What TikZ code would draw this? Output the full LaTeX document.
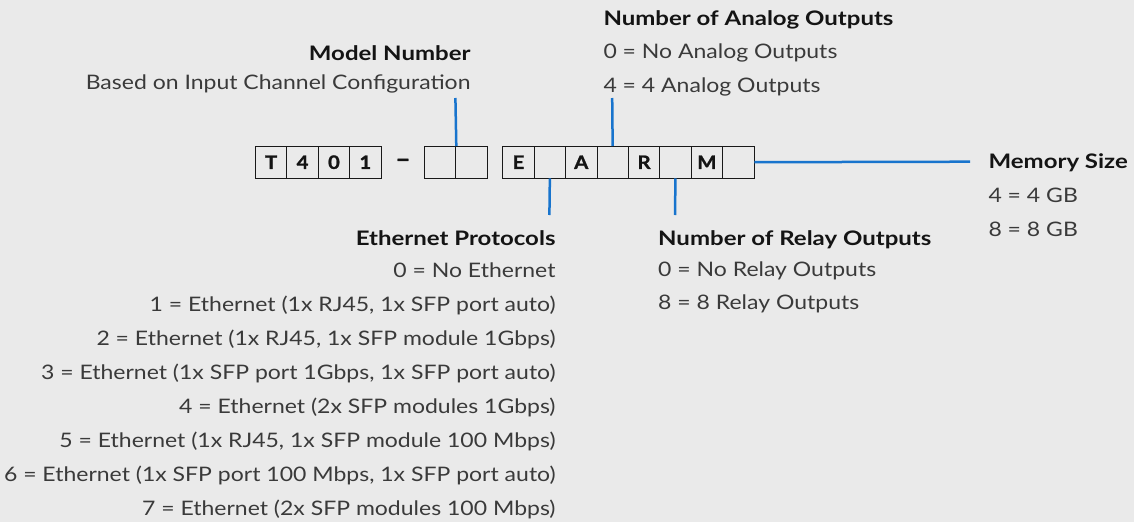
\documentclass[tikz,border=0pt]{standalone}
\usepackage{fontspec}
\setmainfont{Lato}[UprightFeatures={FakeStretch=1.15}, BoldFeatures={FakeStretch=1.2}]
\newfontfamily\cellfont{Lato}[BoldFeatures={FakeStretch=1.1, FakeBold=1.2}]
\definecolor{bg}{HTML}{EAEAEA}
\definecolor{txt}{HTML}{3A3A3A}
\definecolor{ttl}{HTML}{141414}
\definecolor{lineblue}{HTML}{1874CD}
\begin{document}
\begin{tikzpicture}[x=1pt,y=-1pt,
  cell/.style={draw=black!90, line width=0.9pt, fill=bg, minimum width=31.4pt, minimum height=31.5pt, inner sep=0pt, anchor=north west, font=\cellfont\fontsize{18.5}{20}\selectfont\bfseries, text=ttl},
  lbl/.style={inner sep=0pt, font=\fontsize{20}{24}\selectfont, text=txt},
  ttlbl/.style={inner sep=0pt, font=\fontsize{20}{24}\selectfont\bfseries, text=ttl},
  conn/.style={draw=lineblue, line width=2.5pt}]
\fill[bg] (0,0) rectangle (1134,522);
\useasboundingbox (0,0) rectangle (1134,522);
% group 1
\node[cell] (a1) at (255,146) {T};
\node[cell] (a2) at (286.4,146) {4};
\node[cell] (a3) at (317.8,146) {0};
\node[cell] (a4) at (349.2,146) {1};
\node[font=\cellfont\fontsize{24}{26}\selectfont\bfseries, text=ttl, inner sep=0pt] (dash) at (403,163) {–};
% group 2
\node[cell] (b1) at (424,146) {};
\node[cell] (b2) at (455.4,146) {};
% group 3
\node[cell] (c1) at (502.3,146) {E};
\node[cell] (c2) at (533.7,146) {};
\node[cell] (c3) at (565.1,146) {A};
\node[cell] (c4) at (596.5,146) {};
\node[cell] (c5) at (627.9,146) {R};
\node[cell] (c6) at (659.3,146) {};
\node[cell] (c7) at (690.7,146) {M};
\node[cell] (c8) at (722.1,146) {};
% connector end points
\coordinate (mtop) at (455.4,98);
\coordinate (atop) at (612.2,98);
\coordinate (ebot) at (549.4,215);
\coordinate (rbot) at (675,215);
\coordinate (mend) at (970,161.7);
\draw[conn] (b1.north east) -- (mtop);
\draw[conn] (c4.north) -- (atop);
\draw[conn] (c2.south) -- (ebot);
\draw[conn] (c6.south) -- (rbot);
\draw[conn] (c8.east) -- (mend);
% Model number
\node[ttlbl, anchor=base east] (mt) at (470.7,60) {Model Number};
\node[lbl, anchor=base east] (m1) at (470.7,89) {Based on Input Channel Configuration};
% Analog
\node[ttlbl, anchor=base west] (at) at (603.3,25) {Number of Analog Outputs};
\node[lbl, anchor=base west] (a0) at (603.3,58) {0 = No Analog Outputs};
\node[lbl, anchor=base west] (a4l) at (603.3,92) {4 = 4 Analog Outputs};
% Memory
\node[ttlbl, anchor=base west] (mst) at (988.3,168) {Memory Size};
\node[lbl, anchor=base west] (ms4) at (988.3,202) {4 = 4 GB};
\node[lbl, anchor=base west] (ms8) at (988.3,236) {8 = 8 GB};
% Relay
\node[ttlbl, anchor=base west] (rt) at (658,245) {Number of Relay Outputs};
\node[lbl, anchor=base west] (r0) at (658,276) {0 = No Relay Outputs};
\node[lbl, anchor=base west] (r8) at (658,309) {8 = 8 Relay Outputs};
% Ethernet
\node[ttlbl, anchor=base east] (et) at (555.7,245) {Ethernet Protocols};
\node[lbl, anchor=base east] (e0) at (555.7,277) {0 = No Ethernet};
\node[lbl, anchor=base east] (e1) at (555.7,311) {1 = Ethernet (1x RJ45, 1x SFP port auto)};
\node[lbl, anchor=base east] (e2) at (555.7,345) {2 = Ethernet (1x RJ45, 1x SFP module 1Gbps)};
\node[lbl, anchor=base east] (e3) at (555.7,379) {3 = Ethernet (1x SFP port 1Gbps, 1x SFP port auto)};
\node[lbl, anchor=base east] (e4) at (555.7,413) {4 = Ethernet (2x SFP modules 1Gbps)};
\node[lbl, anchor=base east] (e5) at (555.7,447) {5 = Ethernet (1x RJ45, 1x SFP module 100 Mbps)};
\node[lbl, anchor=base east] (e6) at (555.7,481) {6 = Ethernet (1x SFP port 100 Mbps, 1x SFP port auto)};
\node[lbl, anchor=base east] (e7) at (555.7,515) {7 = Ethernet (2x SFP modules 100 Mbps)};
\end{tikzpicture}
\end{document}
